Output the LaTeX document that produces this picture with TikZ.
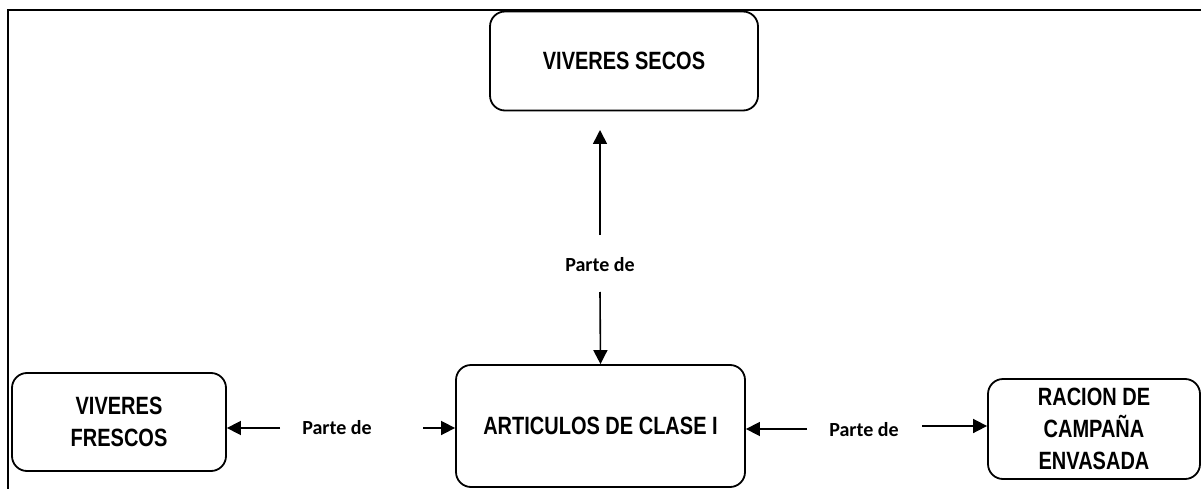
\documentclass[tikz,border=0pt]{standalone}
\usepackage{fontspec}
\setmainfont{Liberation Sans}
\newfontfamily\boxfont{Liberation Sans}[FakeStretch=0.8]
\newfontfamily\lblfont{Carlito}
\usetikzlibrary{arrows.meta}
\begin{document}
\begin{tikzpicture}[x=1pt,y=-1pt,
  box/.style={draw,line width=1.8pt,rounded corners=15pt,align=center,
    font=\boxfont\bfseries\fontsize{25}{32}\selectfont,inner sep=0pt},
  lbl/.style={font=\lblfont\bfseries\fontsize{20}{24}\selectfont,inner sep=0pt},
  arr/.style={line width=1.6pt,-{Triangle[length=14pt,width=14pt]}}]
\useasboundingbox (0,0) rectangle (1201,489);
% frame
\draw[line width=1.5pt] (8,489) -- (8,10) -- (1201,10);
% boxes
\node[box,minimum width=268pt,minimum height=99pt] (secos) at (624,61) {VIVERES SECOS};
\node[box,minimum width=289pt,minimum height=122pt] (art) at (600.5,426) {ARTICULOS DE CLASE I};
\node[box,minimum width=214pt,minimum height=98pt] (fres) at (119,422) {VIVERES\\FRESCOS};
\node[box,minimum width=212pt,minimum height=100pt] (rac) at (1094,429) {RACION DE\\CAMPAÑA\\ENVASADA};
% labels
\node[lbl] (p1) at (600,265) {Parte de};
\node[lbl] (p2) at (337,428) {Parte de};
\node[lbl] (p3) at (864,430) {Parte de};
% connector ends
\coordinate (t1s) at (600,235);
\coordinate (t1) at (600,130);
\coordinate (t2s) at (600,292);
\coordinate (l1s) at (280,428);
\coordinate (l2s) at (423,428);
\coordinate (r1s) at (807,429);
\coordinate (r2s) at (922,426);
% arrows
\draw[arr] (t1s) -- (t1);
\draw[arr] (t2s) -- (art.north);
\draw[arr] (l1s) -- (l1s -| fres.east);
\draw[arr] (l2s) -- (l2s -| art.west);
\draw[arr] (r1s) -- (r1s -| art.east);
\draw[arr] (r2s) -- (r2s -| rac.west);
\end{tikzpicture}
\end{document}
